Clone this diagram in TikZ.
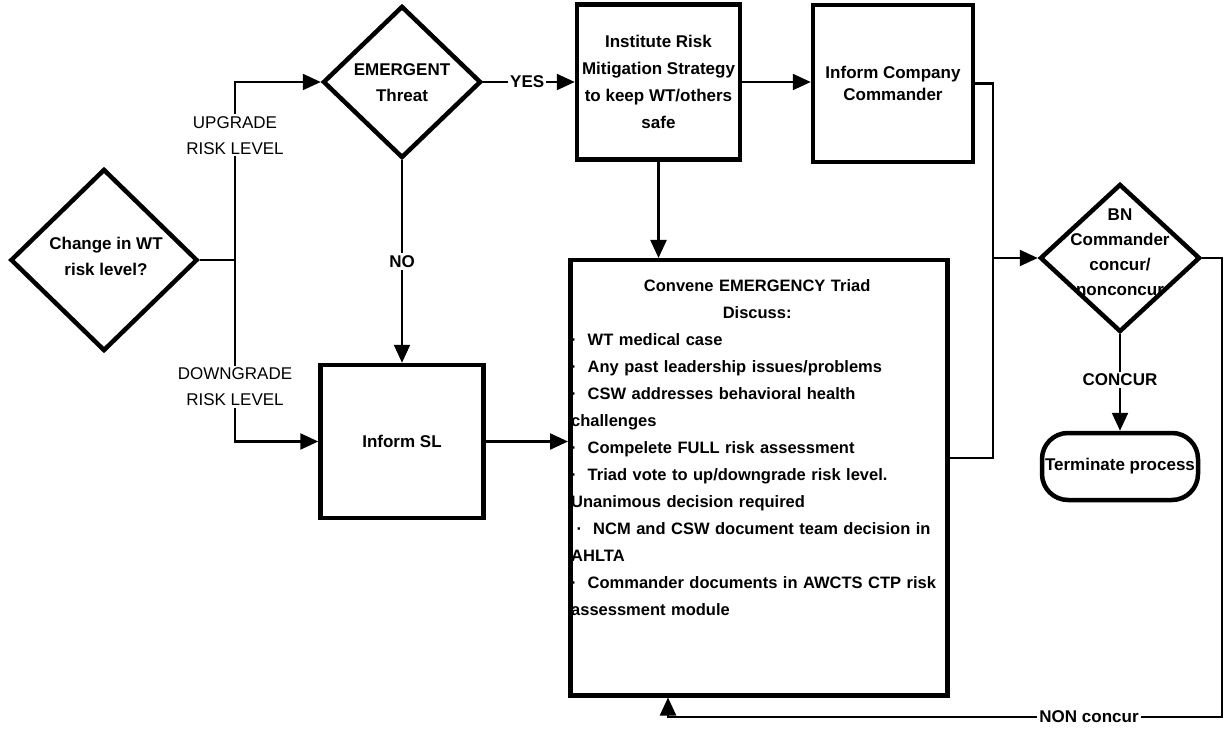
\documentclass[tikz,border=0pt]{standalone}
\usepackage{fontspec}
\setmainfont{Liberation Sans}
\usetikzlibrary{shapes.geometric,arrows.meta}
\begin{document}
\begin{tikzpicture}[x=1pt,y=-1pt,
  nodefont/.style={font=\bfseries\fontsize{17}{26}\selectfont},
  boxnode/.style={draw,line width=4.5pt,inner sep=0pt,align=center,nodefont},
  decision/.style={draw,diamond,line width=4.5pt,inner sep=0pt},
  dlabel/.style={align=center,nodefont},
  conn/.style={line width=2.3pt},
  arr/.style={conn,-{Triangle[length=18pt,width=16pt]}},
  elabel/.style={fill=white,inner sep=2pt,align=center,font=\fontsize{17}{26}\selectfont},
  blabel/.style={fill=white,inner sep=2pt,align=center,font=\bfseries\fontsize{17}{26}\selectfont}]
\useasboundingbox (0,0) rectangle (1224,730);
\fill[white] (0,0) rectangle (1224,730);

% decisions
\node[decision,minimum width=187pt,minimum height=182pt] (chg) at (104,260) {};
\node[dlabel] (chgt) at (106,256) {Change in WT\\risk level?};
\node[decision,minimum width=158pt,minimum height=152pt] (em) at (402,82) {};
\node[dlabel] (emt) at (402,83) {EMERGENT\\Threat};
\node[decision,minimum width=160pt,minimum height=148pt] (bn) at (1120,258) {};
\node[dlabel,font=\bfseries\fontsize{17}{25}\selectfont] (bnt) at (1120,252) {BN\\Commander\\concur/\\nonconcur};

% boxes
\node[boxnode,minimum width=163pt,minimum height=155pt,font=\bfseries\fontsize{17}{27}\selectfont] (inst) at (658.5,82) {Institute Risk\\Mitigation Strategy\\to keep WT/others\\safe};
\node[boxnode,minimum width=160pt,minimum height=157pt,font=\bfseries\fontsize{17}{22}\selectfont] (icc) at (893,83.5) {Inform Company\\Commander};
\node[boxnode,minimum width=163pt,minimum height=153pt] (sl) at (402,441.5) {Inform SL};
\node[boxnode,minimum width=377pt,minimum height=435pt,anchor=north west] (conv) at (568,258) {};
\node[anchor=north west,inner sep=0pt,text width=372pt,font=\bfseries\fontsize{16.5}{27}\selectfont] (convt) at (571,279)
{{\centering Convene EMERGENCY Triad\\Discuss:\par}
\raggedright
·\ \ WT medical case\\
·\ \ Any past leadership issues/problems\\
·\ \ CSW addresses behavioral health\\
challenges\\
·\ \ Compelete FULL risk assessment\\
·\ \ Triad vote to up/downgrade risk level.\\
Unanimous decision required\\
\ ·\ \ NCM and CSW document team decision in\\
AHLTA\\
·\ \ Commander documents in AWCTS CTP risk\\
assessment module\par};
\node[boxnode,rounded corners=26pt,minimum width=156pt,minimum height=67pt] (term) at (1120,466.5) {Terminate process};

% junctions
\coordinate (jl) at (235,260);
\coordinate (jr) at (993,258);
\coordinate (br) at (1222,717);
\coordinate (bl) at (668,717);

% connectors
\draw[conn] (chg.east) -- (jl);
\draw[arr] (jl) |- node[elabel,pos=0.35] {UPGRADE\\RISK LEVEL} (em.west);
\draw[arr] (jl) |- node[elabel,pos=0.35] {DOWNGRADE\\RISK LEVEL} (sl.west);
\draw[arr] (em.east) -- node[blabel,pos=0.48] {YES} (em.east -| inst.west);
\draw[arr] (em.south) -- node[blabel,pos=0.5] {NO} (em.south |- sl.north);
\draw[arr] (inst.east) -- (inst.east -| icc.west);
\draw[arr] (inst.south) -- (inst.south |- conv.north);
\draw[arr] (sl.east) -- (sl.east -| conv.west);
\draw[conn] (icc.east) -| (jr);
\draw[conn] ([yshift=-200pt]conv.north east) -| (jr);
\draw[arr] (jr) -- (bn.west);
\draw[arr] (bn.south) -- node[blabel,pos=0.47] {CONCUR} (term.north);
\draw[arr] (bn.east) -| (br) -- node[blabel,pos=0.24] {NON concur} (bl) -- (bl |- conv.south);
\end{tikzpicture}
\end{document}
